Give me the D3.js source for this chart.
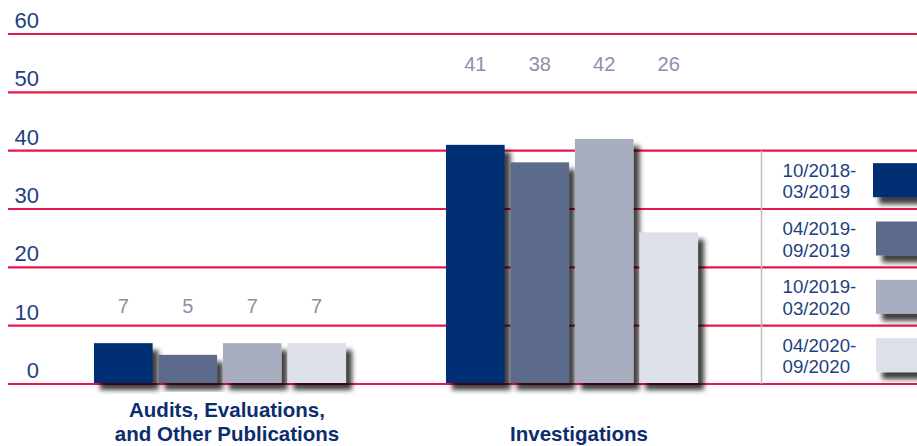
<!DOCTYPE html>
<html>
<head>
<meta charset="utf-8">
<script src="https://cdn.jsdelivr.net/npm/d3@7"></script>
<style>
  html, body { margin: 0; padding: 0; background: #ffffff; }
  svg { display: block; font-family: "Liberation Sans", Arial, sans-serif; }
</style>
</head>
<body>
<svg id="chart" width="917" height="446"></svg>
<script>
// ---- Data ----
const categories = ["Audits, Evaluations,\nand Other Publications", "Investigations"];
const periods = ["10/2018-\n03/2019", "04/2019-\n09/2019", "10/2019-\n03/2020", "04/2020-\n09/2020"];
const auditsValues = [7, 5, 7, 7];
const investigationsValues = [41, 38, 42, 26];
const yTicks = [0, 10, 20, 30, 40, 50, 60];

// ---- Styles / layout ----
const colors = ["#002d72", "#5b6a8c", "#a8aebf", "#dde0e8"];
const gridColor = "#e8174b";
const axisTextColor = "#1f3f7f";
const valueTextColor = "#8891aa";
const catTextColor = "#0b2d6e";
const labelLevels = [12.2, 53.7]; // value-space height for the value labels of each group

const svg = d3.select("#chart");
const W = 917, H = 446;

const defs = svg.append("defs");
const f = defs.append("filter").attr("id", "shadow")
  .attr("x", "-20%").attr("y", "-20%").attr("width", "150%").attr("height", "150%");
f.append("feDropShadow").attr("dx", 6).attr("dy", 7).attr("stdDeviation", 2.6)
  .attr("flood-color", "#000").attr("flood-opacity", 0.75);

const y = d3.scaleLinear().domain([0, 60]).range([384, 34]);

const x0 = d3.scaleBand().domain(categories).range([44, 748])
  .paddingInner(0.284).paddingOuter(0.142);
const x1 = d3.scaleBand().domain(periods).range([0, x0.bandwidth()]).paddingInner(0.09);

const data = categories.map((c, i) => ({
  cat: c,
  values: (i === 0 ? auditsValues : investigationsValues).map((v, j) => ({ period: periods[j], value: v, idx: j }))
}));

// Gridlines
svg.append("g").selectAll("line").data(yTicks).join("line")
  .attr("x1", 8).attr("x2", W)
  .attr("y1", d => y(d)).attr("y2", d => y(d))
  .attr("stroke", gridColor).attr("stroke-width", 2.2);

// Y tick labels
svg.append("g").selectAll("text").data(yTicks).join("text")
  .attr("x", 39).attr("y", d => y(d) - 6)
  .attr("text-anchor", "end")
  .attr("font-size", 22).attr("fill", axisTextColor)
  .text(d => d);

// Legend divider
svg.append("line")
  .attr("x1", 761.5).attr("x2", 761.5).attr("y1", y(40)).attr("y2", y(0))
  .attr("stroke", "#bdbdbd").attr("stroke-width", 1.5);

// Bars
const groups = svg.append("g").selectAll("g").data(data).join("g")
  .attr("transform", d => `translate(${x0(d.cat)},0)`);

groups.selectAll("rect").data(d => d.values).join("rect")
  .attr("x", d => x1(d.period))
  .attr("width", x1.bandwidth())
  .attr("y", d => y(d.value))
  .attr("height", d => y(0) - y(d.value) - 1)
  .attr("fill", d => colors[d.idx])
  .attr("filter", "url(#shadow)");

// Value labels
groups.each(function(d, gi) {
  d3.select(this).selectAll("text.val").data(d.values).join("text")
    .attr("class", "val")
    .attr("x", v => x1(v.period) + x1.bandwidth() / 2)
    .attr("y", y(labelLevels[gi]))
    .attr("text-anchor", "middle")
    .attr("font-size", 20).attr("fill", valueTextColor)
    .text(v => v.value);
});

// Category labels
svg.append("g").selectAll("text").data(categories).join("text")
  .attr("text-anchor", "middle")
  .attr("font-size", 20.5).attr("font-weight", "bold").attr("fill", catTextColor)
  .each(function(c) {
    const lines = c.split("\n");
    const t = d3.select(this);
    const cx = x0(c) + x0.bandwidth() / 2 + 7;
    lines.forEach((ln, k) => {
      t.append("tspan").attr("x", cx)
        .attr("y", 441 - (lines.length - 1 - k) * 24)
        .text(ln);
    });
  });

// Legend
const rowTops = [40, 30, 20, 10];
const legend = svg.append("g").selectAll("g").data(periods).join("g")
  .attr("transform", (d, i) => `translate(0,${y(rowTops[i])})`);

legend.append("rect")
  .attr("x", (d, i) => i === 0 ? 873 : 876).attr("y", 12.5)
  .attr("width", 70).attr("height", 34)
  .attr("fill", (d, i) => colors[i])
  .attr("filter", "url(#shadow)");

legend.append("text")
  .attr("font-size", 18.7).attr("fill", axisTextColor)
  .each(function(d) {
    const t = d3.select(this);
    d.split("\n").forEach((ln, k) => {
      t.append("tspan").attr("x", 782.5).attr("y", 26 + k * 21.6).text(ln);
    });
  });
</script>
</body>
</html>
